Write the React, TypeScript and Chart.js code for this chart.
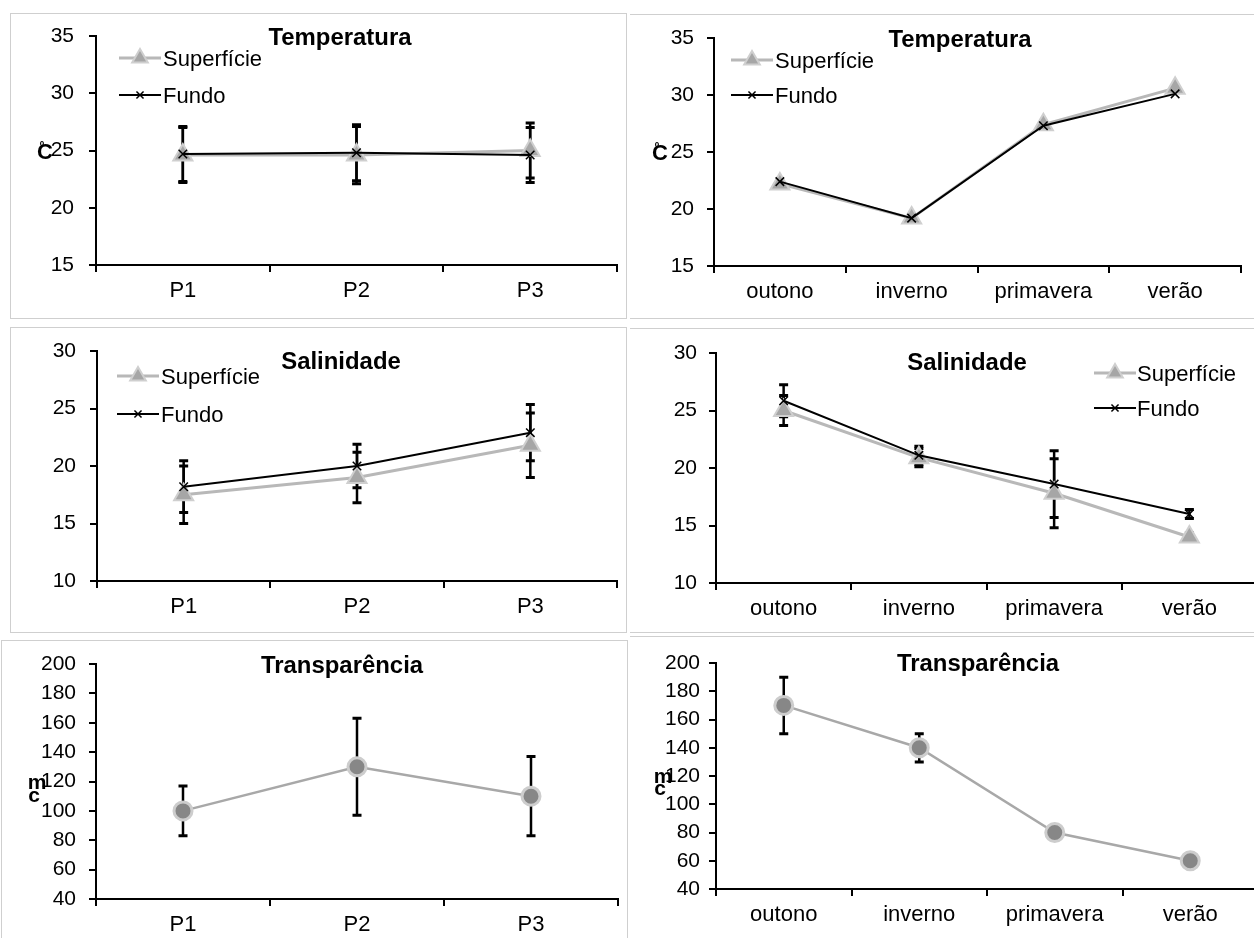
import React, { useEffect, useRef } from 'react';
import { Chart, registerables } from 'chart.js';

Chart.register(...registerables);

// ---------------- data ----------------
const pointLabels = ['P1', 'P2', 'P3'];
const seasonLabels = ['outono', 'inverno', 'primavera', 'verão'];
const supName = 'Superfície';
const funName = 'Fundo';

const tempPointSup = [24.6, 24.6, 25.0];
const tempPointSupErr = [2.4, 2.5, 2.4];
const tempPointFun = [24.7, 24.8, 24.6];
const tempPointFunErr = [2.4, 2.45, 2.4];

const tempSeasonSup = [22.2, 19.2, 27.4, 30.6];
const tempSeasonFun = [22.4, 19.2, 27.3, 30.1];

const salPointSup = [17.5, 19.0, 21.8];
const salPointSupErr = [2.5, 2.2, 2.8];
const salPointFun = [18.2, 20.0, 22.9];
const salPointFunErr = [2.25, 1.9, 2.45];

const salSeasonSup = [25.0, 20.9, 17.8, 14.0];
const salSeasonSupErr = [1.3, 0.8, 3.0, 0.35];
const salSeasonFun = [25.85, 21.1, 18.6, 16.0];
const salSeasonFunErr = [1.4, 0.8, 2.9, 0.4];

const transPoint = [100, 130, 110];
const transPointErr = [17, 33, 27];
const transSeason = [170, 140, 80, 60];
const transSeasonErr = [20, 10, 0, 0];

const tempTicks = { min: 15, max: 35, step: 5 };
const salTicks = { min: 10, max: 30, step: 5 };
const transTicks = { min: 40, max: 200, step: 20 };

// ---------------- styles ----------------
const FONT = "'Liberation Sans', Arial, sans-serif";

function supDataset(data: number[], errors?: number[]) {
  return {
    label: supName, data, errors,
    borderColor: '#b8b8b8', borderWidth: 3,
    pointStyle: 'triangle', pointRadius: 11, pointHoverRadius: 11,
    pointBackgroundColor: '#a6a6a6', pointBorderColor: '#cfcfcf', pointBorderWidth: 2,
    tension: 0, fill: false, order: 1, clip: false,
  };
}
function funDataset(data: number[], errors?: number[]) {
  return {
    label: funName, data, errors,
    borderColor: '#000000', borderWidth: 2,
    pointStyle: 'crossRot', pointRadius: 6, pointHoverRadius: 6,
    pointBackgroundColor: '#000000', pointBorderColor: '#000000', pointBorderWidth: 1.5,
    tension: 0, fill: false, order: 0, clip: false,
  };
}
function transDataset(data: number[], errors?: number[]) {
  return {
    label: 'Transparência', data, errors,
    borderColor: '#a8a8a8', borderWidth: 2.5,
    pointStyle: 'circle', pointRadius: 9, pointHoverRadius: 9,
    pointBackgroundColor: '#878787', pointBorderColor: '#cdcdcd', pointBorderWidth: 3,
    tension: 0, fill: false, order: 0, clip: false,
  };
}

// ---------------- plugins ----------------
const errorBarPlugin = {
  id: 'errorBars',
  beforeDatasetsDraw(chart: any) {
    const ctx = chart.ctx;
    const yScale = chart.scales.y;
    chart.data.datasets.forEach((ds: any, di: number) => {
      const errs = ds.errors;
      if (!errs) return;
      const meta = chart.getDatasetMeta(di);
      meta.data.forEach((pt: any, i: number) => {
        const v = ds.data[i];
        const e = errs[i];
        if (!e) return;
        const x = pt.x;
        const yt = yScale.getPixelForValue(v + e);
        const yb = yScale.getPixelForValue(v - e);
        ctx.save();
        ctx.strokeStyle = '#000';
        ctx.lineWidth = 2.5;
        ctx.beginPath();
        ctx.moveTo(x, yt);
        ctx.lineTo(x, yb);
        ctx.stroke();
        ctx.lineWidth = 3;
        ctx.beginPath();
        ctx.moveTo(x - 4.5, yt);
        ctx.lineTo(x + 4.5, yt);
        ctx.moveTo(x - 4.5, yb);
        ctx.lineTo(x + 4.5, yb);
        ctx.stroke();
        ctx.restore();
      });
    });
  },
};

function stretchText(ctx: any, text: string, x: number, y: number, font: string, align: string, sx: number) {
  ctx.save();
  ctx.font = font;
  ctx.fillStyle = '#000';
  ctx.textBaseline = 'alphabetic';
  ctx.textAlign = align;
  ctx.translate(x, y);
  ctx.scale(sx, 1);
  ctx.fillText(text, 0, 0);
  ctx.restore();
}

function drawMarker(ctx: any, ds: any, x: number, y: number) {
  const r = ds.pointRadius;
  ctx.save();
  ctx.lineWidth = ds.pointBorderWidth;
  ctx.strokeStyle = ds.pointBorderColor;
  ctx.fillStyle = ds.pointBackgroundColor;
  ctx.beginPath();
  if (ds.pointStyle === 'triangle') {
    for (let k = 0; k < 3; k++) {
      const a = (k * 2 * Math.PI) / 3;
      const px = x + Math.sin(a) * r;
      const py = y - Math.cos(a) * r;
      if (k === 0) ctx.moveTo(px, py); else ctx.lineTo(px, py);
    }
    ctx.closePath();
    ctx.fill();
    ctx.stroke();
  } else if (ds.pointStyle === 'crossRot') {
    const d = r * Math.SQRT1_2;
    ctx.moveTo(x - d, y - d);
    ctx.lineTo(x + d, y + d);
    ctx.moveTo(x - d, y + d);
    ctx.lineTo(x + d, y - d);
    ctx.stroke();
  } else {
    ctx.arc(x, y, r, 0, Math.PI * 2);
    ctx.fill();
    ctx.stroke();
  }
  ctx.restore();
}

const overlayPlugin = {
  id: 'overlay',
  afterDraw(chart: any, _args: any, opts: any) {
    const ctx = chart.ctx;
    const ox = opts.ox;
    const oy = opts.oy;
    if (opts.title) {
      stretchText(ctx, opts.title.text, opts.title.x - ox, opts.title.y - oy, `bold 23px ${FONT}`, 'center', 1.04);
    }
    if (opts.yTitle) {
      opts.yTitle.forEach((t: any) => {
        stretchText(ctx, t.t, t.x - ox, t.y - oy, `bold ${t.size}px ${FONT}`, 'center', 1);
      });
    }
    if (opts.legend) {
      const lg = opts.legend;
      chart.data.datasets.forEach((ds: any, i: number) => {
        const ly = lg.ys[i] - oy;
        const x0 = lg.lx - ox;
        ctx.save();
        ctx.strokeStyle = ds.borderColor;
        ctx.lineWidth = ds.borderWidth;
        ctx.beginPath();
        ctx.moveTo(x0, ly);
        ctx.lineTo(x0 + 42, ly);
        ctx.stroke();
        ctx.restore();
        drawMarker(ctx, { ...ds, pointRadius: ds.pointStyle === 'triangle' ? 9 : 5 }, x0 + 21, ly);
        stretchText(ctx, ds.label, lg.tx - ox, lg.ys[i] + 8 - oy, `22px ${FONT}`, 'left', 1);
      });
    }
  },
};

// ---------------- panels ----------------
type PanelCfg = {
  labels: string[];
  datasets: any[];
  ticks: { min: number; max: number; step: number };
  box: { x: number; y: number; w: number; h: number };
  area: { l: number; t: number; r: number; b: number };
  yPad: number;
  title: { text: string; x: number; y: number };
  legend?: { lx: number; tx: number; ys: number[] };
  yTitle?: { t: string; x: number; y: number; size: number }[];
};

const Y_W = 60;
const X_H = 40;

const panels: PanelCfg[] = [
  {
    labels: pointLabels,
    datasets: [supDataset(tempPointSup, tempPointSupErr), funDataset(tempPointFun, tempPointFunErr)],
    ticks: tempTicks,
    box: { x: 0, y: 0, w: 630, h: 320 },
    area: { l: 96, t: 36, r: 623, b: 265 },
    yPad: 15,
    title: { text: 'Temperatura', x: 340, y: 45 },
    legend: { lx: 119, tx: 163, ys: [58, 95] },
    yTitle: [{ t: 'C', x: 45, y: 159, size: 22 }, { t: 'º', x: 42, y: 151, size: 12 }],
  },
  {
    labels: seasonLabels,
    datasets: [supDataset(tempSeasonSup), funDataset(tempSeasonFun)],
    ticks: tempTicks,
    box: { x: 630, y: 0, w: 624, h: 320 },
    area: { l: 714, t: 38, r: 1249, b: 266 },
    yPad: 13,
    title: { text: 'Temperatura', x: 960, y: 47 },
    legend: { lx: 731, tx: 775, ys: [60, 95] },
    yTitle: [{ t: 'C', x: 660, y: 160, size: 22 }, { t: 'º', x: 657, y: 152, size: 12 }],
  },
  {
    labels: pointLabels,
    datasets: [supDataset(salPointSup, salPointSupErr), funDataset(salPointFun, salPointFunErr)],
    ticks: salTicks,
    box: { x: 0, y: 320, w: 630, h: 315 },
    area: { l: 97, t: 351, r: 623, b: 581 },
    yPad: 14,
    title: { text: 'Salinidade', x: 341, y: 369 },
    legend: { lx: 117, tx: 161, ys: [376, 414] },
  },
  {
    labels: seasonLabels,
    datasets: [supDataset(salSeasonSup, salSeasonSupErr), funDataset(salSeasonFun, salSeasonFunErr)],
    ticks: salTicks,
    box: { x: 630, y: 320, w: 640, h: 315 },
    area: { l: 716, t: 353, r: 1262, b: 583 },
    yPad: 12,
    title: { text: 'Salinidade', x: 967, y: 370 },
    legend: { lx: 1094, tx: 1137, ys: [373, 408] },
  },
  {
    labels: pointLabels,
    datasets: [transDataset(transPoint, transPointErr)],
    ticks: transTicks,
    box: { x: 0, y: 633, w: 630, h: 320 },
    area: { l: 96, t: 664, r: 626, b: 899 },
    yPad: 13,
    title: { text: 'Transparência', x: 342, y: 673 },
    yTitle: [{ t: 'm', x: 37, y: 789, size: 21 }, { t: 'c', x: 34, y: 802, size: 21 }],
  },
  {
    labels: seasonLabels,
    datasets: [transDataset(transSeason, transSeasonErr)],
    ticks: transTicks,
    box: { x: 630, y: 633, w: 640, h: 320 },
    area: { l: 716, t: 663, r: 1258, b: 889 },
    yPad: 9,
    title: { text: 'Transparência', x: 978, y: 671 },
    yTitle: [{ t: 'm', x: 663, y: 783, size: 21 }, { t: 'c', x: 660, y: 795, size: 21 }],
  },
];

function buildConfig(cfg: PanelCfg): any {
  const { box, area } = cfg;
  const padding = {
    left: area.l - box.x - Y_W,
    top: area.t - box.y,
    right: box.x + box.w - area.r,
    bottom: box.y + box.h - area.b - X_H,
  };
  return {
    type: 'line',
    data: { labels: cfg.labels, datasets: cfg.datasets },
    options: {
      responsive: false,
      maintainAspectRatio: false,
      animation: false,
      events: [],
      layout: { padding },
      plugins: {
        legend: { display: false },
        tooltip: { enabled: false },
        title: { display: false },
        overlay: { ox: box.x, oy: box.y, title: cfg.title, legend: cfg.legend, yTitle: cfg.yTitle },
      },
      scales: {
        x: {
          type: 'category',
          offset: true,
          grid: { offset: true, drawOnChartArea: false, drawTicks: true, tickLength: 7, color: '#000', lineWidth: 2 },
          border: { display: true, color: '#000', width: 2 },
          ticks: { color: '#000', font: { family: FONT, size: 22 }, padding: 6, maxRotation: 0, autoSkip: false },
          afterFit: (s: any) => { s.height = X_H; },
        },
        y: {
          type: 'linear',
          min: cfg.ticks.min,
          max: cfg.ticks.max,
          grid: { drawOnChartArea: false, drawTicks: true, tickLength: 7, color: '#000', lineWidth: 2 },
          border: { display: true, color: '#000', width: 2 },
          ticks: { stepSize: cfg.ticks.step, color: '#000', font: { family: FONT, size: 21 }, padding: cfg.yPad },
          afterFit: (s: any) => { s.width = Y_W; },
        },
      },
    },
    plugins: [errorBarPlugin, overlayPlugin],
  };
}

function Panel({ cfg }: { cfg: PanelCfg }) {
  const ref = useRef<HTMLCanvasElement | null>(null);
  useEffect(() => {
    if (!ref.current) return;
    const chart = new Chart(ref.current, buildConfig(cfg));
    return () => chart.destroy();
  }, [cfg]);
  return (
    <canvas
      ref={ref}
      width={cfg.box.w}
      height={cfg.box.h}
      style={{ position: 'absolute', left: cfg.box.x, top: cfg.box.y, width: cfg.box.w, height: cfg.box.h }}
    />
  );
}

const FRAME = '1px solid #cfcfcf';

export default function App() {
  return (
    <div style={{ position: 'absolute', left: 0, top: 0, width: 1254, height: 938, overflow: 'hidden', background: '#fff' }}>
      <div style={{ position: 'absolute', left: 10, top: 13, width: 615, height: 304, border: FRAME }} />
      <div style={{ position: 'absolute', left: 630, top: 14, width: 640, height: 303, borderTop: FRAME, borderBottom: FRAME }} />
      <div style={{ position: 'absolute', left: 10, top: 327, width: 615, height: 304, border: FRAME }} />
      <div style={{ position: 'absolute', left: 630, top: 328, width: 640, height: 303, borderTop: FRAME, borderBottom: FRAME }} />
      <div style={{ position: 'absolute', left: 1, top: 640, width: 625, height: 310, border: FRAME }} />
      <div style={{ position: 'absolute', left: 630, top: 636, width: 640, height: 310, borderTop: FRAME }} />
      {panels.map((p, i) => (
        <Panel key={i} cfg={p} />
      ))}
    </div>
  );
}
